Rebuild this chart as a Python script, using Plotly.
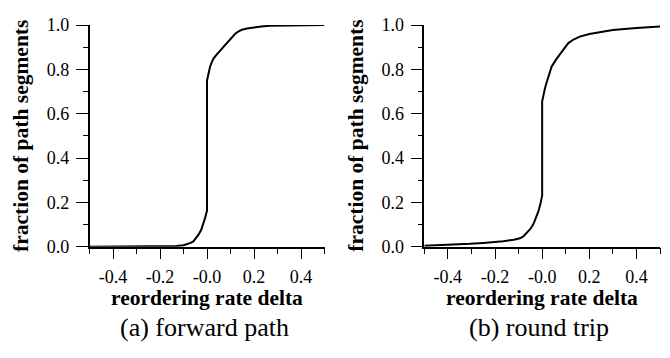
import plotly.graph_objects as go

# forward path CDF
fwd_x = [-0.5, -0.2, -0.16, -0.13, -0.1, -0.085, -0.07, -0.058, -0.045, -0.037, -0.025, -0.016, -0.008, -0.002, 0.0,
         0.0, 0.004, 0.008, 0.013, 0.02, 0.027, 0.04, 0.055, 0.072, 0.091, 0.105, 0.119, 0.133, 0.148, 0.17, 0.197,
         0.23, 0.268, 0.35, 0.5]
fwd_y = [0.0, 0.0, 0.001, 0.003, 0.007, 0.011, 0.017, 0.024, 0.04, 0.053, 0.075, 0.102, 0.13, 0.155, 0.16,
         0.75, 0.775, 0.795, 0.812, 0.832, 0.848, 0.866, 0.884, 0.904, 0.926, 0.945, 0.96, 0.971, 0.979, 0.985, 0.99,
         0.994, 0.997, 0.999, 1.0]

# round trip CDF
rt_x = [-0.5, -0.447, -0.4, -0.306, -0.25, -0.2, -0.165, -0.12, -0.094, -0.08, -0.066, -0.05, -0.037, -0.025,
        -0.016, -0.008, -0.002, 0.0, 0.0, 0.005, 0.012, 0.019, 0.03, 0.04, 0.058, 0.076, 0.094, 0.111, 0.135, 0.16,
        0.2, 0.245, 0.3, 0.4, 0.5]
rt_y = [0.004, 0.006, 0.008, 0.013, 0.017, 0.021, 0.025, 0.031, 0.038, 0.046, 0.06, 0.08, 0.102, 0.13,
        0.159, 0.19, 0.22, 0.23, 0.656, 0.685, 0.715, 0.741, 0.78, 0.812, 0.843, 0.869, 0.896, 0.919, 0.936, 0.948,
        0.96, 0.969, 0.978, 0.987, 0.994]

x_tickvals = [-0.4, -0.2, 0.0, 0.2, 0.4]
x_ticktext = ["-0.4", "-0.2", "-0.0", "0.2", "0.4"]
y_tickvals = [0.0, 0.2, 0.4, 0.6, 0.8, 1.0]
y_ticktext = ["0.0", "0.2", "0.4", "0.6", "0.8", "1.0"]

x_title = "reordering rate delta"
y_title = "fraction of path segments"
captions = ["(a) forward path", "(b) round trip"]

W, H = 670, 358
FONT = "Liberation Serif, Times New Roman, serif"

fig = go.Figure()
fig.add_trace(go.Scatter(x=fwd_x, y=fwd_y, mode="lines", line=dict(color="black", width=2),
                         xaxis="x", yaxis="y", showlegend=False))
fig.add_trace(go.Scatter(x=rt_x, y=rt_y, mode="lines", line=dict(color="black", width=2),
                         xaxis="x2", yaxis="y2", showlegend=False))

panels = [(89.5, 324.5), (424.3, 660.0)]
ytop, ybot = 16.0, 250.7
ydom = [1 - ybot / H, 1 - ytop / H]

common_x = dict(range=[-0.5, 0.5], showgrid=False, zeroline=False, showline=True, linecolor="black",
                linewidth=1.5, ticks="outside", ticklen=11, tickwidth=1.3, tickcolor="black",
                tickvals=x_tickvals, ticktext=x_ticktext, ticklabelstandoff=2,
                tickfont=dict(family=FONT, size=18, color="black"),
                minor=dict(tick0=-0.5, dtick=0.1, ticks="outside", ticklen=6, tickwidth=1.3, tickcolor="black"))
common_y = dict(range=[0, 1], showgrid=False, zeroline=False, showline=True, linecolor="black",
                linewidth=1.5, ticks="outside", ticklen=12, tickwidth=1.3, tickcolor="black",
                tickvals=y_tickvals, ticktext=y_ticktext, ticklabelstandoff=3,
                tickfont=dict(family=FONT, size=18, color="black"),
                minor=dict(tick0=0, dtick=0.1, ticks="outside", ticklen=5, tickwidth=1.3, tickcolor="black"))

annotations = []
for i, (l, r) in enumerate(panels):
    cx = (l + r) / 2
    annotations.append(dict(text=f"<b>{x_title}</b>", x=cx / W, y=1 - 305 / H, xref="paper", yref="paper",
                            showarrow=False, xanchor="center", yanchor="middle",
                            font=dict(family=FONT, size=21.5, color="black")))
    annotations.append(dict(text=captions[i], x=(cx - 3) / W, y=1 - 336 / H, xref="paper", yref="paper",
                            showarrow=False, xanchor="center", yanchor="middle",
                            font=dict(family=FONT, size=26, color="black")))
    annotations.append(dict(text=f"<b>{y_title}</b>", x=(21 + (l - 89.5)) / W, y=1 - (ytop + ybot) / 2 / H,
                            xref="paper", yref="paper", textangle=-90,
                            showarrow=False, xanchor="center", yanchor="middle",
                            font=dict(family=FONT, size=21.5, color="black")))

fig.update_layout(
    width=W, height=H, autosize=False,
    margin=dict(l=0, r=0, t=0, b=0),
    paper_bgcolor="white", plot_bgcolor="white",
    xaxis=dict(domain=[panels[0][0] / W, panels[0][1] / W], anchor="y", **common_x),
    yaxis=dict(domain=ydom, anchor="x", **common_y),
    xaxis2=dict(domain=[panels[1][0] / W, panels[1][1] / W], anchor="y2", **common_x),
    yaxis2=dict(domain=ydom, anchor="x2", **common_y),
    annotations=annotations,
)

fig.write_html("out.html", config={"displayModeBar": False},
               post_script="document.body.style.margin='0';document.body.style.overflow='hidden';")
